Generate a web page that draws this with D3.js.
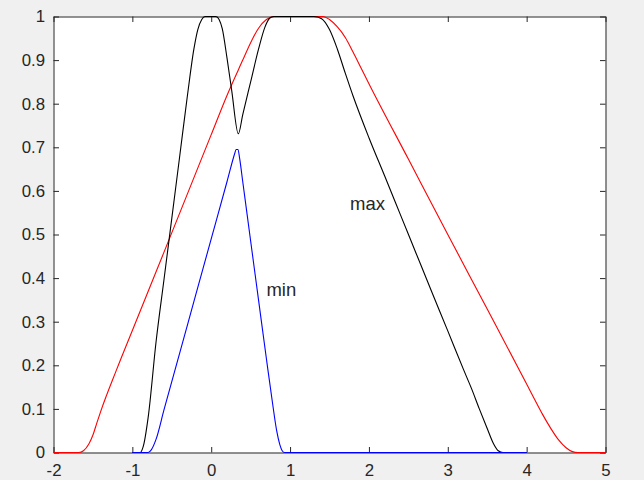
<!DOCTYPE html>
<html>
<head>
<meta charset="utf-8">
<script src="https://cdn.jsdelivr.net/npm/d3@7"></script>
<style>
  html, body { margin: 0; padding: 0; background: #f0f0f0; }
  svg { display: block; }
</style>
</head>
<body>
<svg id="chart" width="644" height="480"></svg>
<script>
// ---- data ----
const xTicks = [-2, -1, 0, 1, 2, 3, 4, 5];
const xTickLabels = ["-2", "-1", "0", "1", "2", "3", "4", "5"];
const yTicks = [0, 0.1, 0.2, 0.3, 0.4, 0.5, 0.6, 0.7, 0.8, 0.9, 1];
const yTickLabels = ["0", "0.1", "0.2", "0.3", "0.4", "0.5", "0.6", "0.7", "0.8", "0.9", "1"];

const redX = [-2, -1.68, -1.62, -1.55, -1.5, -1.45, -1.4, -1.2, -1.0, -0.6, -0.2, 0, 0.2, 0.4, 0.5, 0.6, 0.7, 0.8, 1.0, 1.42, 1.5, 1.6, 1.7, 1.8, 1.9, 2.0, 2.5, 3.0, 3.5, 4.0, 4.1, 4.2, 4.3, 4.4, 4.5, 4.58, 4.65, 5];
const redY = [0, 0, 0.004, 0.02, 0.04, 0.068, 0.095, 0.19, 0.28, 0.459, 0.639, 0.729, 0.819, 0.9, 0.94, 0.973, 0.993, 1, 1, 1, 0.993, 0.976, 0.952, 0.918, 0.882, 0.846, 0.673, 0.5, 0.329, 0.157, 0.122, 0.088, 0.057, 0.03, 0.011, 0.002, 0, 0];

const maxX = [-1, -0.9, -0.86, -0.8, -0.7, -0.6, -0.5, -0.4, -0.3, -0.22, -0.17, -0.12, -0.08, 0.06, 0.1, 0.14, 0.2, 0.26, 0.344, 0.4, 0.5, 0.6, 0.68, 0.74, 0.79, 1.3, 1.4, 1.5, 1.6, 1.7, 1.8, 2.0, 2.2, 2.4, 2.6, 2.8, 3.0, 3.2, 3.3, 3.4, 3.5, 3.58, 3.64, 3.7, 4];
const maxY = [0, 0, 0.015, 0.08, 0.253, 0.395, 0.537, 0.679, 0.821, 0.925, 0.97, 0.993, 1, 1, 0.993, 0.972, 0.905, 0.83, 0.731, 0.775, 0.85, 0.925, 0.975, 0.996, 1, 1, 0.995, 0.97, 0.925, 0.87, 0.817, 0.722, 0.634, 0.545, 0.456, 0.367, 0.279, 0.19, 0.147, 0.1, 0.055, 0.02, 0.004, 0, 0];

const minX = [-1, -0.8, -0.76, -0.7, -0.6, -0.4, -0.2, 0, 0.2, 0.3, 0.315, 0.34, 0.36, 0.4, 0.5, 0.6, 0.7, 0.78, 0.83, 0.87, 0.9, 0.93, 4];
const minY = [0, 0, 0.006, 0.03, 0.097, 0.228, 0.359, 0.49, 0.621, 0.687, 0.695, 0.695, 0.675, 0.621, 0.485, 0.35, 0.215, 0.11, 0.05, 0.018, 0.004, 0, 0];

const labelText = ["max", "min"];
const labelX = [1.76, 0.7];
const labelY = [0.556, 0.36];

// ---- layout ----
const svg = d3.select("#chart");
const W = 644, H = 480;
const mLeft = 53.5, mRight = 605.5, mTop = 16.5, mBottom = 452.5;

svg.append("rect").attr("width", W).attr("height", H).attr("fill", "#f0f0f0");
svg.append("rect").attr("x", mLeft).attr("y", mTop)
  .attr("width", mRight - mLeft).attr("height", mBottom - mTop).attr("fill", "#ffffff");

const x = d3.scaleLinear().domain([-2, 5]).range([mLeft, mRight]);
const y = d3.scaleLinear().domain([0, 1]).range([mBottom, mTop]);

const axisColor = "#262626";
const fontFam = "'Liberation Sans', Arial, Helvetica, sans-serif";
const tickLen = 5.5;

function styleAxis(g) {
  g.select(".domain").attr("stroke", axisColor).attr("stroke-width", 1);
  g.selectAll(".tick line").attr("stroke", axisColor).attr("stroke-width", 1);
  g.selectAll(".tick text").attr("fill", axisColor)
    .style("font-family", fontFam).style("font-size", "16.8px");
}

// axes
const gBottom = svg.append("g").attr("transform", `translate(0,${mBottom})`)
  .call(d3.axisBottom(x).tickValues(xTicks).tickSizeInner(-tickLen).tickSizeOuter(0)
    .tickPadding(11.5).tickFormat((d, i) => xTickLabels[i]));
styleAxis(gBottom);

const gLeft = svg.append("g").attr("transform", `translate(${mLeft},0)`)
  .call(d3.axisLeft(y).tickValues(yTicks).tickSizeInner(-tickLen).tickSizeOuter(0)
    .tickPadding(8.5).tickFormat((d, i) => yTickLabels[i]));
styleAxis(gLeft);

const gTop = svg.append("g").attr("transform", `translate(0,${mTop})`)
  .call(d3.axisTop(x).tickValues(xTicks).tickSizeInner(-tickLen).tickSizeOuter(0).tickFormat(""));
styleAxis(gTop);

const gRight = svg.append("g").attr("transform", `translate(${mRight},0)`)
  .call(d3.axisRight(y).tickValues(yTicks).tickSizeInner(-tickLen).tickSizeOuter(0).tickFormat(""));
styleAxis(gRight);

// series lines
const line = d3.line().x(d => x(d[0])).y(d => y(d[1])).curve(d3.curveMonotoneX);
const series = [
  { xs: redX, ys: redY, color: "#ff0000" },
  { xs: maxX, ys: maxY, color: "#000000" },
  { xs: minX, ys: minY, color: "#0000ff" }
];

series.forEach(s => {
  const pts = s.xs.map((v, i) => [v, s.ys[i]]);
  svg.append("path").datum(pts)
    .attr("d", line)
    .attr("fill", "none")
    .attr("stroke", s.color)
    .attr("stroke-width", 1.1)
    .attr("stroke-linejoin", "round");
});

// annotations
labelText.forEach((t, i) => {
  svg.append("text")
    .attr("x", x(labelX[i]))
    .attr("y", y(labelY[i]))
    .attr("fill", "#262626")
    .style("font-family", fontFam)
    .style("font-size", "18.5px")
    .text(t);
});
</script>
</body>
</html>
